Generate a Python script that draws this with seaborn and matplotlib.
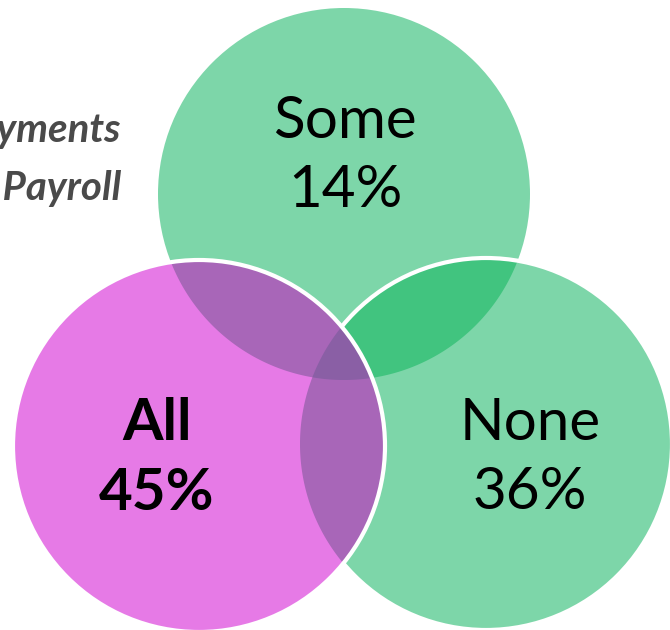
import numpy as np
import matplotlib
matplotlib.use("Agg")
import matplotlib.pyplot as plt
from matplotlib.patches import Circle, Polygon
import seaborn as sns

# Share of respondents in each group
groups = ["Some", "All", "None"]
shares = [14, 45, 36]
bold_label = [False, True, False]

# Side caption
caption_lines = ["Payments", "via Payroll"]

sns.set_theme(style="white")
plt.rcParams["font.family"] = ["Lato", "DejaVu Sans"]

# Colours for the single sets and their overlaps
light_green = "#7dd6a9"
dark_green = "#41c47f"
pink = "#e67ae6"
purple = "#a866b8"
deep_purple = "#8a5fa5"

# Circle layout (pixel-like coordinates, y grows downward)
R = 186
centres = {"Some": (344, 194), "All": (199, 446), "None": (486, 444)}


def disk_intersection(names, n=2000):
    """Polygon of the intersection of several disks (convex)."""
    pts = []
    t = np.linspace(0, 2 * np.pi, n, endpoint=False)
    for a in names:
        cx, cy = centres[a]
        ring = np.column_stack([cx + R * np.cos(t), cy + R * np.sin(t)])
        keep = np.ones(len(ring), bool)
        for b in names:
            if b == a:
                continue
            bx, by = centres[b]
            keep &= (ring[:, 0] - bx) ** 2 + (ring[:, 1] - by) ** 2 <= R ** 2 + 1e-6
        pts.append(ring[keep])
    pts = np.vstack(pts)
    c = pts.mean(axis=0)
    order = np.argsort(np.arctan2(pts[:, 1] - c[1], pts[:, 0] - c[0]))
    return pts[order]


fig = plt.figure(figsize=(6.7, 6.3), dpi=100)
ax = fig.add_axes([0, 0, 1, 1])
ax.set_xlim(0, 670)
ax.set_ylim(630, 0)
ax.set_aspect("equal")
ax.axis("off")

# Top set
ax.add_patch(Circle(centres["Some"], R, facecolor=light_green, edgecolor="none", zorder=1))
# Right set
ax.add_patch(Circle(centres["None"], R, facecolor=light_green, edgecolor="none", zorder=2))
ax.add_patch(Polygon(disk_intersection(["Some", "None"]), closed=True,
                     facecolor=dark_green, edgecolor="none", zorder=3))
ax.add_patch(Circle(centres["None"], R, facecolor="none", edgecolor="white", lw=3, zorder=4))
# Left set
ax.add_patch(Circle(centres["All"], R, facecolor=pink, edgecolor="none", zorder=5))
ax.add_patch(Polygon(disk_intersection(["Some", "All"]), closed=True,
                     facecolor=purple, edgecolor="none", zorder=6))
ax.add_patch(Polygon(disk_intersection(["All", "None"]), closed=True,
                     facecolor=purple, edgecolor="none", zorder=6))
ax.add_patch(Polygon(disk_intersection(["Some", "All", "None"]), closed=True,
                     facecolor=deep_purple, edgecolor="none", zorder=7))
ax.add_patch(Circle(centres["All"], R, facecolor="none", edgecolor="white", lw=3, zorder=8))

# Group labels: name on the first baseline, share on the second
label_pos = {"Some": (345, 138, 207), "All": (157, 440, 510), "None": (530, 440, 509)}
for g, s, b in zip(groups, shares, bold_label):
    x, y_name, y_share = label_pos[g]
    weight = "bold" if b else "normal"
    ax.text(x, y_name, g, ha="center", va="baseline", fontsize=42,
            fontweight=weight, color="black", zorder=10)
    ax.text(x, y_share, f"{s}%", ha="center", va="baseline", fontsize=42,
            fontweight=weight, color="black", zorder=10)

# Caption on the left
for i, line in enumerate(caption_lines):
    ax.text(121, 142 + i * 58, line, ha="right", va="baseline", fontsize=29,
            fontstyle="italic", fontweight="bold", color="#4a4a4a", zorder=10)

fig.savefig("out.png", dpi=100)
